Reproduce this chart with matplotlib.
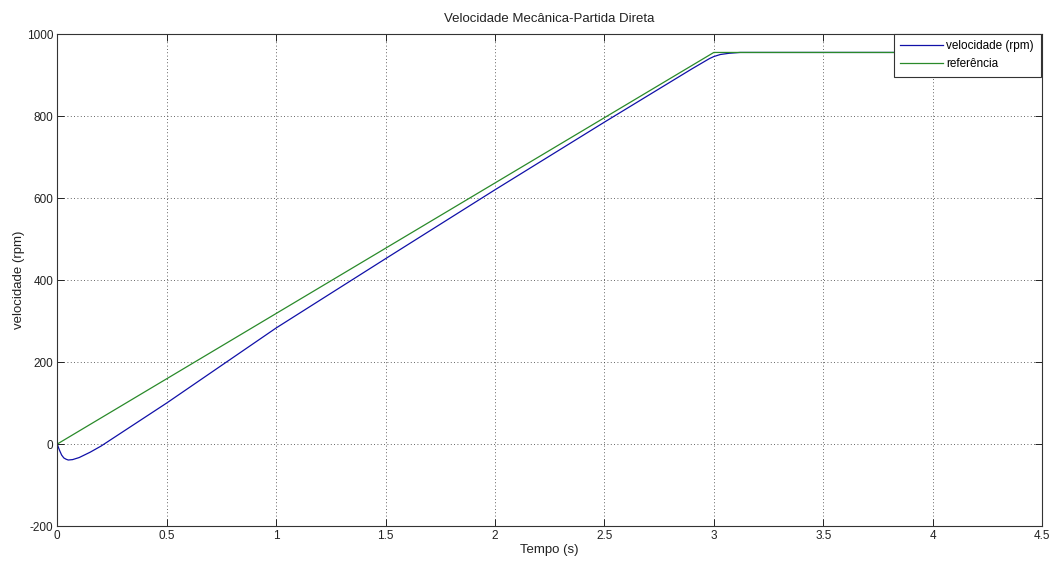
import matplotlib
matplotlib.use("Agg")
import matplotlib.pyplot as plt

plt.rcParams["font.family"] = ["Liberation Sans", "DejaVu Sans"]
plt.rcParams["axes.unicode_minus"] = False

t_vel = [0.0, 0.005, 0.01, 0.02, 0.03, 0.04, 0.05, 0.07, 0.1, 0.15, 0.2, 0.3,
         0.5, 1.0, 1.5, 2.0, 2.5, 2.9, 2.98, 3.0, 3.03, 3.07, 3.12, 4.5]
vel = [0, -8, -15, -27, -34, -37, -39, -38, -33, -20, -5, 30,
       100, 283, 452, 620, 785, 915, 940, 945, 950, 953, 955, 955]

# reference ramp
t_ref = [0.0, 3.0, 4.5]
ref = [0, 955, 955]

xticks = [0, 0.5, 1, 1.5, 2, 2.5, 3, 3.5, 4, 4.5]
xtick_labels = ["0", "0.5", "1", "1.5", "2", "2.5", "3", "3.5", "4", "4.5"]
yticks = [-200, 0, 200, 400, 600, 800, 1000]

fig = plt.figure(figsize=(10.51, 5.62), dpi=100)
ax = fig.add_axes([0.0545, 0.064, 0.937, 0.8755])

ax.plot(t_vel, vel, color="#1010a8", linewidth=0.9, label="velocidade (rpm)")
ax.plot(t_ref, ref, color="#2a8a2a", linewidth=0.9, label="referência")

ax.set_xlim(0, 4.5)
ax.set_ylim(-200, 1000)
ax.set_xticks(xticks)
ax.set_xticklabels(xtick_labels)
ax.set_yticks(yticks)
ax.tick_params(direction="in", top=True, right=True, labelsize=8.5, length=5,
               width=0.7, colors="#222222", pad=3)
for s in ax.spines.values():
    s.set_linewidth(0.8)
    s.set_color("#333333")
ax.grid(True, linestyle=(0, (1, 3)), color="#333333", linewidth=0.6)

ax.set_title("Velocidade Mecânica-Partida Direta", fontsize=9.5, color="#222222", pad=9)
ax.set_xlabel("Tempo (s)", fontsize=9.5, color="#222222", labelpad=1)
ax.set_ylabel("velocidade (rpm)", fontsize=9.5, color="#222222", labelpad=1)

leg = ax.legend(loc="upper right", bbox_to_anchor=(0.9985, 1.0), fontsize=8.5,
                fancybox=False, framealpha=1, edgecolor="#333333",
                handlelength=3.6, handletextpad=0.3, borderpad=0.55,
                labelspacing=0.5, borderaxespad=0)
leg.get_frame().set_linewidth(0.8)

fig.savefig("out.png", dpi=100, facecolor="white")
